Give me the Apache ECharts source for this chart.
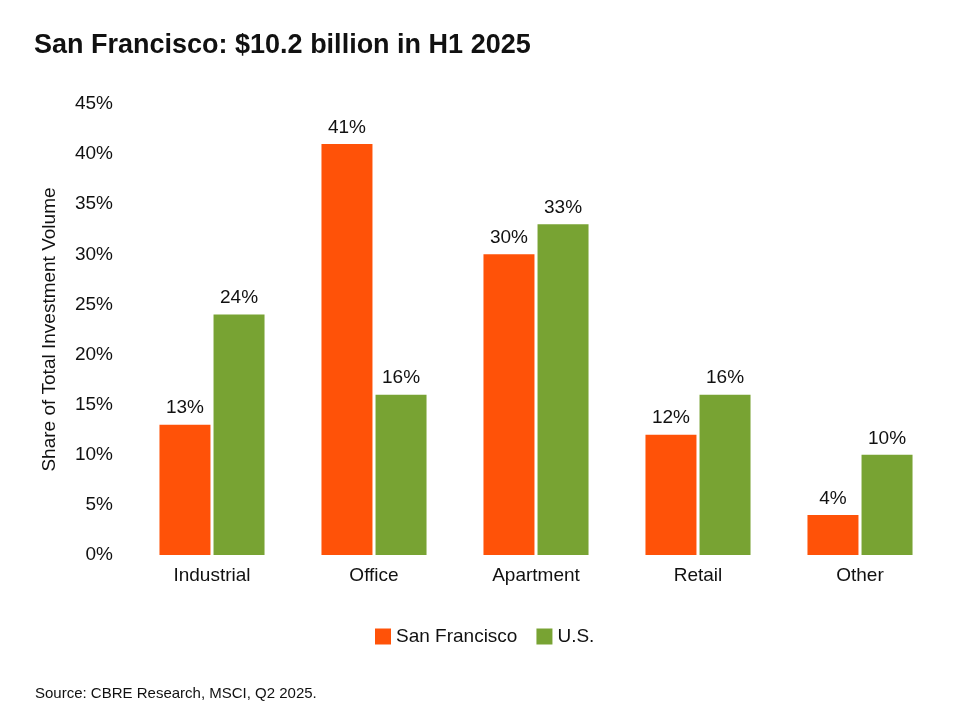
<!DOCTYPE html>
<html>
<head>
<meta charset="utf-8">
<script src="https://cdn.jsdelivr.net/npm/echarts@6/dist/echarts.min.js"></script>
<style>
  html, body { margin: 0; padding: 0; background: #fff; }
  #chart { width: 956px; height: 705px; }
</style>
</head>
<body>
<div id="chart"></div>
<script>
var categories = ['Industrial', 'Office', 'Apartment', 'Retail', 'Other'];
var sanFrancisco = [13, 41, 30, 12, 4];
var us = [24, 16, 33, 16, 10];

var font = '"Liberation Sans", Arial, Helvetica, sans-serif';
var myChart = echarts.init(document.getElementById('chart'), null, { renderer: 'canvas' });

var barLabel = {
    show: true,
    position: 'top',
    formatter: '{c}%',
    fontSize: 19,
    color: '#111',
    distance: 7,
    fontFamily: font
};

myChart.setOption({
    textStyle: { fontFamily: font },
    title: [{
        text: 'San Francisco: $10.2 billion in H1 2025',
        left: 29,
        top: 27,
        textStyle: { fontSize: 27, fontWeight: 'bold', color: '#111', fontFamily: font }
    }, {
        text: 'Source: CBRE Research, MSCI, Q2 2025.',
        left: 30,
        top: 681,
        textStyle: { fontSize: 15, fontWeight: 'normal', color: '#111', fontFamily: font }
    }],
    legend: {
        bottom: 54,
        left: 370,
        itemWidth: 16,
        itemHeight: 16,
        itemGap: 19,
        icon: 'rect',
        textStyle: { fontSize: 19, color: '#111', fontFamily: font },
        data: ['San Francisco', 'U.S.']
    },
    grid: {
        top: 104,
        left: 131,
        right: 15,
        bottom: 150,
        containLabel: false
    },
    xAxis: {
        type: 'category',
        data: categories,
        axisLine: { show: false },
        axisTick: { show: false },
        axisLabel: { fontSize: 19, color: '#111', margin: 11, fontFamily: font }
    },
    yAxis: {
        type: 'value',
        min: 0,
        max: 45,
        interval: 5,
        name: 'Share of Total Investment Volume',
        nameLocation: 'middle',
        nameGap: 72,
        nameTextStyle: { fontSize: 19, color: '#111', fontFamily: font },
        axisLine: { show: false },
        axisTick: { show: false },
        splitLine: { show: false },
        axisLabel: {
            formatter: '{value}%',
            fontSize: 19,
            color: '#111',
            margin: 18,
            fontFamily: font
        }
    },
    series: [{
        name: 'San Francisco',
        type: 'bar',
        data: sanFrancisco,
        barWidth: 51,
        barGap: '6%',
        itemStyle: { color: '#FF5208' },
        label: barLabel
    }, {
        name: 'U.S.',
        type: 'bar',
        data: us,
        barWidth: 51,
        barGap: '6%',
        itemStyle: { color: '#78A333' },
        label: barLabel
    }]
});
</script>
</body>
</html>
